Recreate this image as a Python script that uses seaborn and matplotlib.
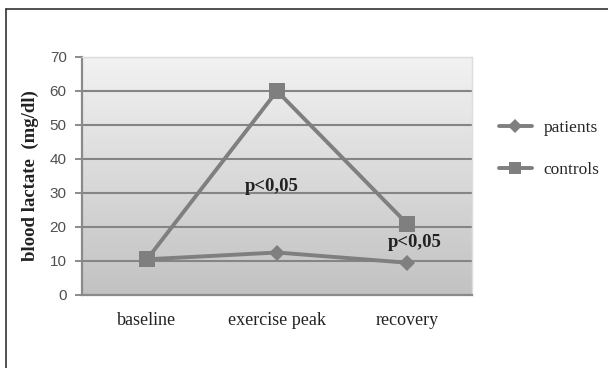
import numpy as np
import pandas as pd
import matplotlib
matplotlib.use("Agg")
import matplotlib.pyplot as plt
import seaborn as sns
from matplotlib.lines import Line2D
from matplotlib.colors import LinearSegmentedColormap

categories = ["baseline", "exercise peak", "recovery"]
patients = [10.5, 12.5, 9.5]
controls = [10.5, 60, 21]
y_ticks = [0, 10, 20, 30, 40, 50, 60, 70]
annotations = ["p<0,05", "p<0,05"]

sns.set_theme(style="white")
plt.rcParams['font.family'] = ['Liberation Serif', 'DejaVu Serif']

df = pd.DataFrame({
    "x": list(range(len(categories))) * 2,
    "value": patients + controls,
    "group": ["patients"] * 3 + ["controls"] * 3,
})

fig = plt.figure(figsize=(6.08, 3.68), dpi=100)
ax = fig.add_axes([82/608, 1 - 295/368, (472-82)/608, (295-57)/368])

# gradient background
grad = np.linspace(0, 1, 256).reshape(-1, 1)
cmap = LinearSegmentedColormap.from_list("g", ["#c2c2c2", "#f2f2f2"])
ax.imshow(grad, extent=(0, 1, 0, 1), transform=ax.transAxes, cmap=cmap,
          aspect="auto", origin="lower", zorder=0)

for v in y_ticks[1:]:
    ax.axhline(v, color="#858585", lw=1.5, zorder=1)

sns.lineplot(data=df, x="x", y="value", hue="group", style="group",
             markers={"patients": "D", "controls": "s"}, dashes=False,
             palette={"patients": "#7f7f7f", "controls": "#7f7f7f"},
             markersize=9, lw=2.8, ax=ax, zorder=3, legend=False,
             markeredgewidth=0)
lines = ax.get_lines()
for ln in lines:
    if ln.get_marker() == "D":
        ln.set_markersize(8)
    elif ln.get_marker() == "s":
        ln.set_markersize(11)

ax.set_xlim(-0.5, 2.5)
ax.set_ylim(0, 70)
ax.set_yticks(y_ticks)
ax.set_yticklabels([str(v) for v in y_ticks], family=['Liberation Sans', 'DejaVu Sans'],
                   color="#505050", fontsize=11)
ax.set_xticks(range(len(categories)))
ax.set_xticklabels(categories, fontsize=13, color="#222222")
ax.set_xticks([0.5, 1.5, 2.5], minor=True)
ax.tick_params(axis="x", which="major", length=0, pad=12)
ax.tick_params(axis="x", which="minor", length=5, color="#8a8a8a", width=1.4, direction="out")
ax.tick_params(axis="y", length=5, color="#8a8a8a", width=1.4, direction="out", left=True, pad=6)
ax.set_xlabel("")
ax.set_ylabel("blood lactate  (mg/dl)", fontsize=13.5, fontweight="bold", color="#222222", labelpad=8)

for s in ["top", "right"]:
    ax.spines[s].set_color("#dddddd")
    ax.spines[s].set_linewidth(1)
for s in ["left", "bottom"]:
    ax.spines[s].set_color("#8a8a8a")
    ax.spines[s].set_linewidth(1.6)

ax.text(0.96, 32, annotations[0], ha="center", va="center", fontsize=13.5, fontweight="bold", color="#222222", zorder=5)
ax.text(2.06, 15.5, annotations[1], ha="center", va="center", fontsize=13.5, fontweight="bold", color="#222222", zorder=5)

handles = [Line2D([], [], color="#7f7f7f", lw=2.8, marker="D", markersize=7, markeredgewidth=0),
           Line2D([], [], color="#7f7f7f", lw=2.8, marker="s", markersize=9, markeredgewidth=0)]
fig.legend(handles, ["patients", "controls"], loc="center left", bbox_to_anchor=(483/608, 1 - 149/368),
           frameon=False, fontsize=12.5, handlelength=1.9, handletextpad=0.7, labelspacing=1.5)

# outer frame (left & top)
fig.add_artist(Line2D([6/608, 6/608], [0, 1 - 9/368], transform=fig.transFigure, color="#333333", lw=1.2))
fig.add_artist(Line2D([6/608, 1], [1 - 9/368, 1 - 9/368], transform=fig.transFigure, color="#333333", lw=1.2))

fig.savefig("out.png", dpi=100)
